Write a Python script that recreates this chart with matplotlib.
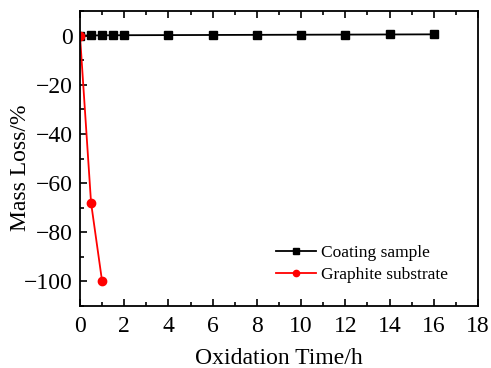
import matplotlib
matplotlib.use("Agg")
import matplotlib.pyplot as plt
from matplotlib.ticker import MultipleLocator

plt.rcParams['font.family'] = ['Liberation Serif', 'DejaVu Serif']
plt.rcParams['mathtext.fontset'] = 'stix'

coating_t = [0, 0.5, 1, 1.5, 2, 4, 6, 8, 10, 12, 14, 16]
coating_m = [0, 0.05, 0.1, 0.12, 0.15, 0.2, 0.25, 0.3, 0.35, 0.4, 0.45, 0.5]
graphite_t = [0, 0.5, 1]
graphite_m = [0, -68, -100]
yticks = [-100, -80, -60, -40, -20, 0]

fig = plt.figure(figsize=(4.91, 3.68), dpi=100)
ax = fig.add_axes([80/491, 1-306/368, 398/491, 295/368])

ax.plot(coating_t, coating_m, color='black', marker='s', markersize=6, lw=1.3, label='Coating sample')
ax.plot(graphite_t, graphite_m, color='red', marker='o', markersize=6, lw=1.3, label='Graphite substrate')

ax.set_xlim(0, 18)
ax.set_ylim(-110, 10)
ax.xaxis.set_major_locator(MultipleLocator(2))
ax.xaxis.set_minor_locator(MultipleLocator(1))
ax.yaxis.set_minor_locator(MultipleLocator(10))
ax.set_yticks(yticks)
ax.set_yticklabels(['\u2212' + str(abs(v)) if v < 0 else str(v) for v in yticks])
ax.tick_params(which='both', direction='in', top=True, right=False, labelsize=17, width=1.2)
ax.tick_params(axis='x', which='major', pad=7)
ax.tick_params(axis='y', which='major', pad=5)
ax.tick_params(which='major', length=5)
ax.tick_params(which='minor', length=3)
for s in ax.spines.values():
    s.set_linewidth(1.3)

ax.set_xlabel('Oxidation Time/h', fontsize=17, labelpad=8)
ax.set_ylabel('Mass Loss/%', fontsize=17, va='center')
ax.yaxis.set_label_coords((21 - 80) / 398, (306 - 168) / 295)

ax.legend(loc='lower right', frameon=False, fontsize=12.5, bbox_to_anchor=(0.965, 0.025),
          handlelength=2.3, handletextpad=0.3, labelspacing=0.35, markerscale=0.75)

fig.savefig('out.png', dpi=100)
